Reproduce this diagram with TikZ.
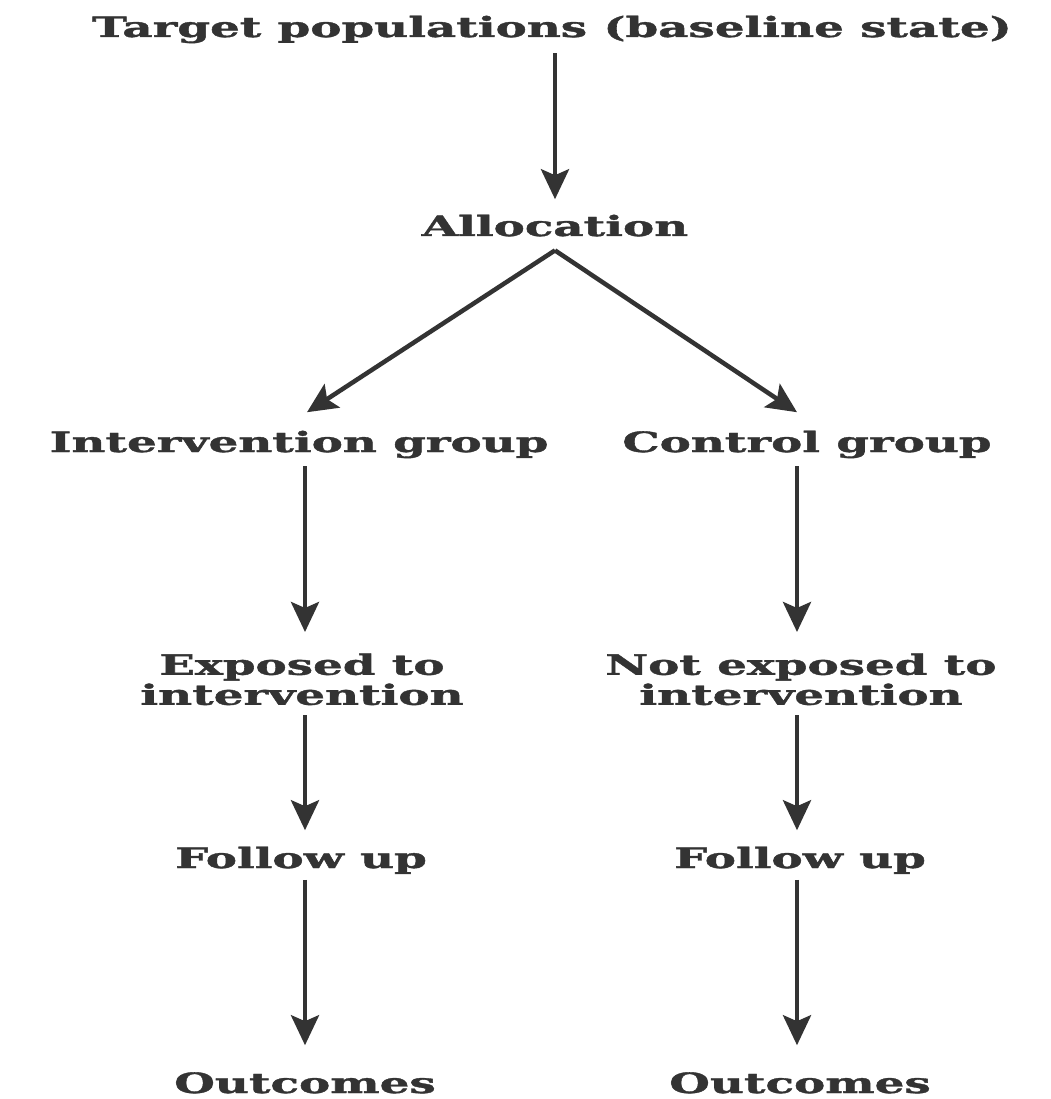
\documentclass[tikz,border=0pt]{standalone}
\usepackage{fontspec}
\usepackage{graphicx}
\setmainfont{DejaVu Serif}[BoldFeatures={FakeBold=1.2}]
\usetikzlibrary{arrows.meta}
\definecolor{ink}{HTML}{333333}
\newcommand{\wtxt}[1]{\scalebox{1.67}[1]{#1}}
\tikzset{
  lbl/.style={inner sep=0pt, outer sep=0pt, text=ink, font=\fontsize{28}{30}\selectfont\bfseries, align=center},
  arr/.style={draw=ink, line width=4.5pt, -{Stealth[length=30pt,width=28pt,inset=6pt]}}
}
\begin{document}
\begin{tikzpicture}[x=1pt,y=-1pt]
\useasboundingbox[fill=white] (0,0) rectangle (1050,1099);
\node[lbl, anchor=base] (top) at (552,37) {\wtxt{Target populations (baseline state)}};
\node[lbl, anchor=base] (alloc) at (555,236) {\wtxt{Allocation}};
\node[lbl, anchor=base] (int) at (299,452) {\wtxt{Intervention group}};
\node[lbl, anchor=base] (ctl) at (807,452) {\wtxt{Control group}};
\node[lbl, anchor=north] (exp) at (302,653.5) {\wtxt{Exposed to}\\\wtxt{intervention}};
\node[lbl, anchor=north] (nexp) at (801,653.5) {\wtxt{Not exposed to}\\\wtxt{intervention}};
\node[lbl, anchor=base] (fu1) at (301,868) {\wtxt{Follow up}};
\node[lbl, anchor=base] (fu2) at (800,868) {\wtxt{Follow up}};
\node[lbl, anchor=base] (out1) at (305,1093) {\wtxt{Outcomes}};
\node[lbl, anchor=base] (out2) at (800,1093) {\wtxt{Outcomes}};
\coordinate (colL) at (305,0);
\coordinate (colR) at (797,0);
\draw[arr, shorten <=10pt, shorten >=15.5pt] (top.south -| alloc.north) -- (alloc.north);
\draw[arr] ([yshift=-14pt]alloc.south) -- ([xshift=8pt,yshift=18.5pt]int.north);
\draw[arr] ([yshift=-14pt]alloc.south) -- ([xshift=-10pt,yshift=18.5pt]ctl.north);
\draw[arr, shorten <=8pt, shorten >=21.5pt] (int.south -| colL) -- (exp.north -| colL);
\draw[arr, shorten <=8pt, shorten >=21.5pt] (ctl.south -| colR) -- (nexp.north -| colR);
\draw[arr, shorten <=10pt, shorten >=16.5pt] (exp.south -| colL) -- (fu1.north -| colL);
\draw[arr, shorten <=10pt, shorten >=16.5pt] (nexp.south -| colR) -- (fu2.north -| colR);
\draw[arr, shorten <=6pt, shorten >=27pt] (fu1.south -| colL) -- (out1.north -| colL);
\draw[arr, shorten <=6pt, shorten >=27pt] (fu2.south -| colR) -- (out2.north -| colR);
\end{tikzpicture}
\end{document}
